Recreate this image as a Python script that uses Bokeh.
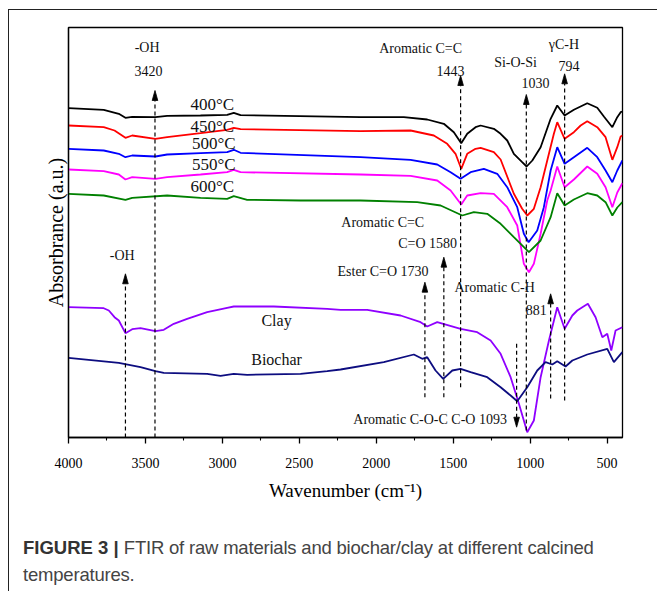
from bokeh.plotting import figure
from bokeh.models import Range1d, FixedTicker, Div
from bokeh.layouts import column
from bokeh.core.properties import value
from bokeh.embed import file_html
from bokeh.resources import INLINE

# ---------------- data (wavenumber cm-1, absorbance a.u. offset) ----------------
w_400 = [4000, 3771, 3673, 3630, 3586, 3435, 3359, 3142, 2969, 2926, 2882, 2102, 1821, 1669, 1561, 1496,
         1448, 1409, 1355, 1322, 1236, 1192, 1149, 1106, 1052, 1023, 986, 932, 867, 824, 776, 716, 629,
         564, 521, 466, 434, 412, 400]
a_400 = [329.3, 327.7, 323.7, 319.7, 320.7, 320.3, 321.7, 322, 322.7, 324.7, 322.3, 320.3, 320.3, 318, 313.7, 305.3,
         294.3, 303.7, 310.3, 312, 308.7, 303.7, 297, 283.7, 275.3, 271, 277, 290.3, 318.7, 332, 322, 327.7, 334.3,
         329.7, 321, 310.3, 320.3, 325.3, 326]

w_450 = [4000, 3771, 3701, 3630, 3586, 3435, 3359, 3142, 2969, 2926, 2882, 2102, 1777, 1626, 1539, 1485,
         1448, 1409, 1355, 1322, 1236, 1192, 1106, 1052, 1019, 976, 932, 889, 846, 824, 776, 716, 672, 629,
         564, 510, 466, 434, 412, 400]
a_450 = [312, 310.3, 307, 299.7, 302, 298.7, 300.3, 304.3, 307.7, 309.7, 308.3, 306.3, 307, 302, 293.7, 283.7,
         268.7, 283.7, 288.7, 289.7, 285.3, 278, 243.7, 228.7, 222, 228.7, 250.3, 277, 303.7, 315.3, 298.7, 305.3, 312, 316.3,
         310.3, 300.3, 277.7, 290.3, 301, 302]

w_500 = [4000, 3771, 3673, 3630, 3586, 3435, 3359, 3142, 2969, 2926, 2882, 2102, 1777, 1604, 1517, 1452,
         1387, 1301, 1214, 1149, 1084, 1041, 1010, 954, 911, 867, 824, 776, 716, 629, 564, 510, 466, 434, 401]
a_500 = [288.7, 287, 283.7, 280.3, 282, 281, 283, 284.3, 285.3, 287.7, 284.7, 280.3, 277.7, 273, 265.3, 258.7,
         265.3, 268.7, 263.7, 250.3, 230.3, 203.7, 195.3, 207, 230.3, 267, 290.3, 273.7, 280.3, 289.7, 280.3, 267, 255.3, 267, 277]

w_550 = [4000, 3771, 3673, 3630, 3586, 3435, 3359, 3142, 2969, 2926, 2882, 2102, 1777, 1604, 1517, 1448,
         1409, 1322, 1236, 1149, 1084, 1041, 1008, 976, 932, 889, 867, 824, 776, 716, 629, 564, 510, 466, 434, 401]
a_550 = [268, 266.3, 263, 258, 260.3, 258.7, 260.3, 263, 265.3, 267.7, 265.3, 263, 261.7, 257, 247, 233,
         242, 244.3, 243.7, 230.3, 212, 173.7, 165.3, 173.7, 203.7, 237, 247, 271, 250.3, 258, 271, 263.7, 250.3, 230.3, 245, 254.3]

w_600 = [4000, 3771, 3630, 3586, 3359, 3142, 2969, 2926, 2839, 2492, 2102, 1734, 1582, 1441, 1366, 1279,
         1192, 1106, 1008, 932, 867, 824, 776, 716, 629, 564, 510, 466, 434, 401]
a_600 = [243.7, 242, 237.7, 239.7, 242, 239.7, 238.7, 241.3, 237.7, 237, 237, 235.3, 232, 222, 225.3, 223.7,
         213.7, 200.3, 185.3, 197, 220.3, 244.3, 232, 238, 244.3, 242, 235.3, 222, 230, 235.3]

w_clay = [4000, 3771, 3738, 3701, 3673, 3630, 3586, 3532, 3435, 3381, 3316, 3229, 3099, 2969, 2926, 2666,
          2319, 2232, 2059, 1842, 1712, 1669, 1604, 1452, 1344, 1257, 1192, 1127, 1073, 1019, 976, 932, 878,
          824, 776, 726, 694, 661, 625, 575, 531, 499, 473, 445, 401]
a_clay = [130.3, 129.3, 127, 120.3, 117, 104.3, 108.3, 109.3, 106.3, 107.7, 113.7, 118.7, 125.3, 129.7, 131, 131,
          128.7, 127.7, 127.7, 122, 115.3, 111, 115.3, 108.7, 105.3, 97, 83.7, 60.3, 33.7, 5.3, 17, 60.3, 97,
          130.3, 108.7, 122, 127, 130.3, 133.7, 120.3, 100.3, 103.7, 87, 107, 110.3]

w_bio = [4000, 3673, 3532, 3435, 3381, 3099, 3012, 2926, 2839, 2492, 2319, 2232, 1951, 1756, 1701, 1669,
         1615, 1565, 1506, 1452, 1387, 1279, 1192, 1127, 1084, 1019, 954, 900, 856, 824, 770, 726, 629,
         499, 456, 401]
a_bio = [79.7, 74.7, 70.3, 66.3, 64.7, 63.7, 61.7, 63.7, 62.7, 63.7, 66.3, 68, 75.3, 83, 78.7, 80.3,
         67, 58.7, 67, 68.7, 65.3, 60.3, 50.3, 42, 36.3, 50.3, 67, 75.3, 73, 76.3, 71, 77, 83,
         88.7, 75.3, 85.3]

series_names = ["400°C", "450°C", "500°C", "550°C", "600°C", "Clay", "Biochar"]
series_w = [w_400, w_450, w_500, w_550, w_600, w_clay, w_bio]
series_a = [a_400, a_450, a_500, a_550, a_600, a_clay, a_bio]
series_colors = ["#000000", "#FF0000", "#0000FF", "#FF00FF", "#008000", "#8F00FF", "#0D0D80"]

# curve name labels (wavenumber, absorbance)
name_w = [3066, 3066, 3056, 3056, 3066, 2648, 2648]
name_a = [333, 311, 293.7, 273, 251, 117, 77.7]
name_size = ["17px"] * 5 + ["16px"] * 2

# band markers: wavenumber, dashed line start, arrow tip, direction (+1 up, -1 down)
band_w = [3438, 3630, 1452, 1025, 776, 1684, 1561, 867, 1088]
band_from = [0, 0, 50.3, 7, 37, 40.3, 40.3, 39, 93.7]
band_tip = [347, 163.7, 362, 343, 363.7, 155.3, 180.3, 143.7, 10.3]
band_dir = [1, 1, 1, 1, 1, 1, 1, 1, -1]

# band annotation texts
ann_text = ["-OH", "3420", "-OH", "Aromatic C=C", "1443", "Si-O-Si", "1030", "γC-H", "794",
            "Ester C=O 1730", "Aromatic C=C", "C=O 1580", "Aromatic C-H", "881", "Aromatic C-O-C C-O 1093"]
ann_w = [3489, 3480, 3651, 1712, 1517, 1095, 965, 781, 748, 1956, 1958, 1666, 1231, 960, 1650]
ann_a = [390.3, 367, 182, 388.7, 367, 375.3, 354.3, 393, 372, 166, 215.3, 193.7, 149.7, 127.7, 18]

x_ticks = [4000, 3500, 3000, 2500, 2000, 1500, 1000, 500]
x_minor = [3750, 3250, 2750, 2250, 1750, 1250, 750]

# ---------------- figure ----------------
W, H = 639, 502
p = figure(width=W, height=H, output_backend="svg", toolbar_location=None,
           x_range=Range1d(4000, 400), y_range=Range1d(0, 410),
           min_border_left=59, min_border_right=W - 59 - 554, min_border_top=17,
           min_border_bottom=H - 17 - 410)
p.background_fill_color = "white"
p.border_fill_color = "white"
p.grid.visible = False
p.outline_line_color = "black"
p.outline_line_width = 1.3

serif = "Liberation Serif"
xa = p.xaxis[0]
xa.ticker = FixedTicker(ticks=x_ticks, minor_ticks=x_minor)
xa.axis_line_color = "black"
xa.axis_line_width = 1.3
xa.major_tick_in = 0
xa.major_tick_out = 6
xa.minor_tick_in = 0
xa.minor_tick_out = 3
xa.major_tick_line_width = 1.3
xa.minor_tick_line_width = 1.1
xa.major_label_text_font = serif
xa.major_label_text_font_size = "14px"
xa.major_label_text_color = "black"
xa.major_label_standoff = 14
xa.axis_label = "Wavenumber (cm⁻¹)"
xa.axis_label_text_font = serif
xa.axis_label_text_font_size = "19px"
xa.axis_label_text_font_style = "normal"
xa.axis_label_text_color = "black"
xa.axis_label_standoff = 9

ya = p.yaxis[0]
ya.ticker = FixedTicker(ticks=[])
ya.axis_line_color = "black"
ya.axis_line_width = 1.3
ya.major_tick_in = 0
ya.major_tick_out = 0
ya.major_label_standoff = 0
ya.axis_label = "Absorbrance (a.u.)"
ya.axis_label_text_font = serif
ya.axis_label_text_font_size = "20px"
ya.axis_label_text_font_style = "normal"
ya.axis_label_text_color = "black"
ya.axis_label_standoff = 2

# spectra
for w, a, c in zip(series_w, series_a, series_colors):
    p.line(w, a, line_color=c, line_width=1.8)

# dashed band lines with arrow heads
px_w = 3600 / 554.0  # wavenumber units per pixel
head_len = 10
head_half = 2.8 * px_w
seg_x, seg_y0, seg_y1, hx, hy = [], [], [], [], []
for w, y0, tip, d in zip(band_w, band_from, band_tip, band_dir):
    base = tip - d * head_len
    seg_x.append(w)
    seg_y0.append(y0)
    seg_y1.append(base)
    hx.append([w - head_half, w, w + head_half])
    hy.append([base, tip, base])
p.segment(x0=seg_x, y0=seg_y0, x1=seg_x, y1=seg_y1, line_color="black",
          line_width=1.2, line_dash="4 3")
p.patches(hx, hy, fill_color="black", line_color="black", line_width=0.8)

# band annotation text
p.text(x=ann_w, y=ann_a, text=ann_text, text_font=value(serif), text_font_size="14px",
       text_align="center", text_baseline="middle", text_color="#111")

# curve names
p.text(x=name_w, y=name_a, text=series_names, text_font=value(serif), text_font_size=name_size,
       text_align="center", text_baseline="middle", text_color="#111")

# caption
cap = Div(text='<b style="color:#333">FIGURE 3 |</b> <span style="letter-spacing:-0.2px">FTIR of raw materials '
               'and biochar/clay at different calcined<br>temperatures.</span>',
          width=647, height=70,
          styles={"font-family": "'Liberation Sans', Arial, sans-serif",
                  "font-size": "18.5px", "line-height": "27px", "color": "#444",
                  "padding-top": "17px", "padding-left": "9px", "box-sizing": "border-box"})

layout = column(p, cap, spacing=0,
                styles={"border-left": "1px solid #222", "border-top": "1px solid #222",
                        "margin-left": "8px", "margin-top": "9px"})

open("out.html", "w").write(file_html(layout, INLINE))
